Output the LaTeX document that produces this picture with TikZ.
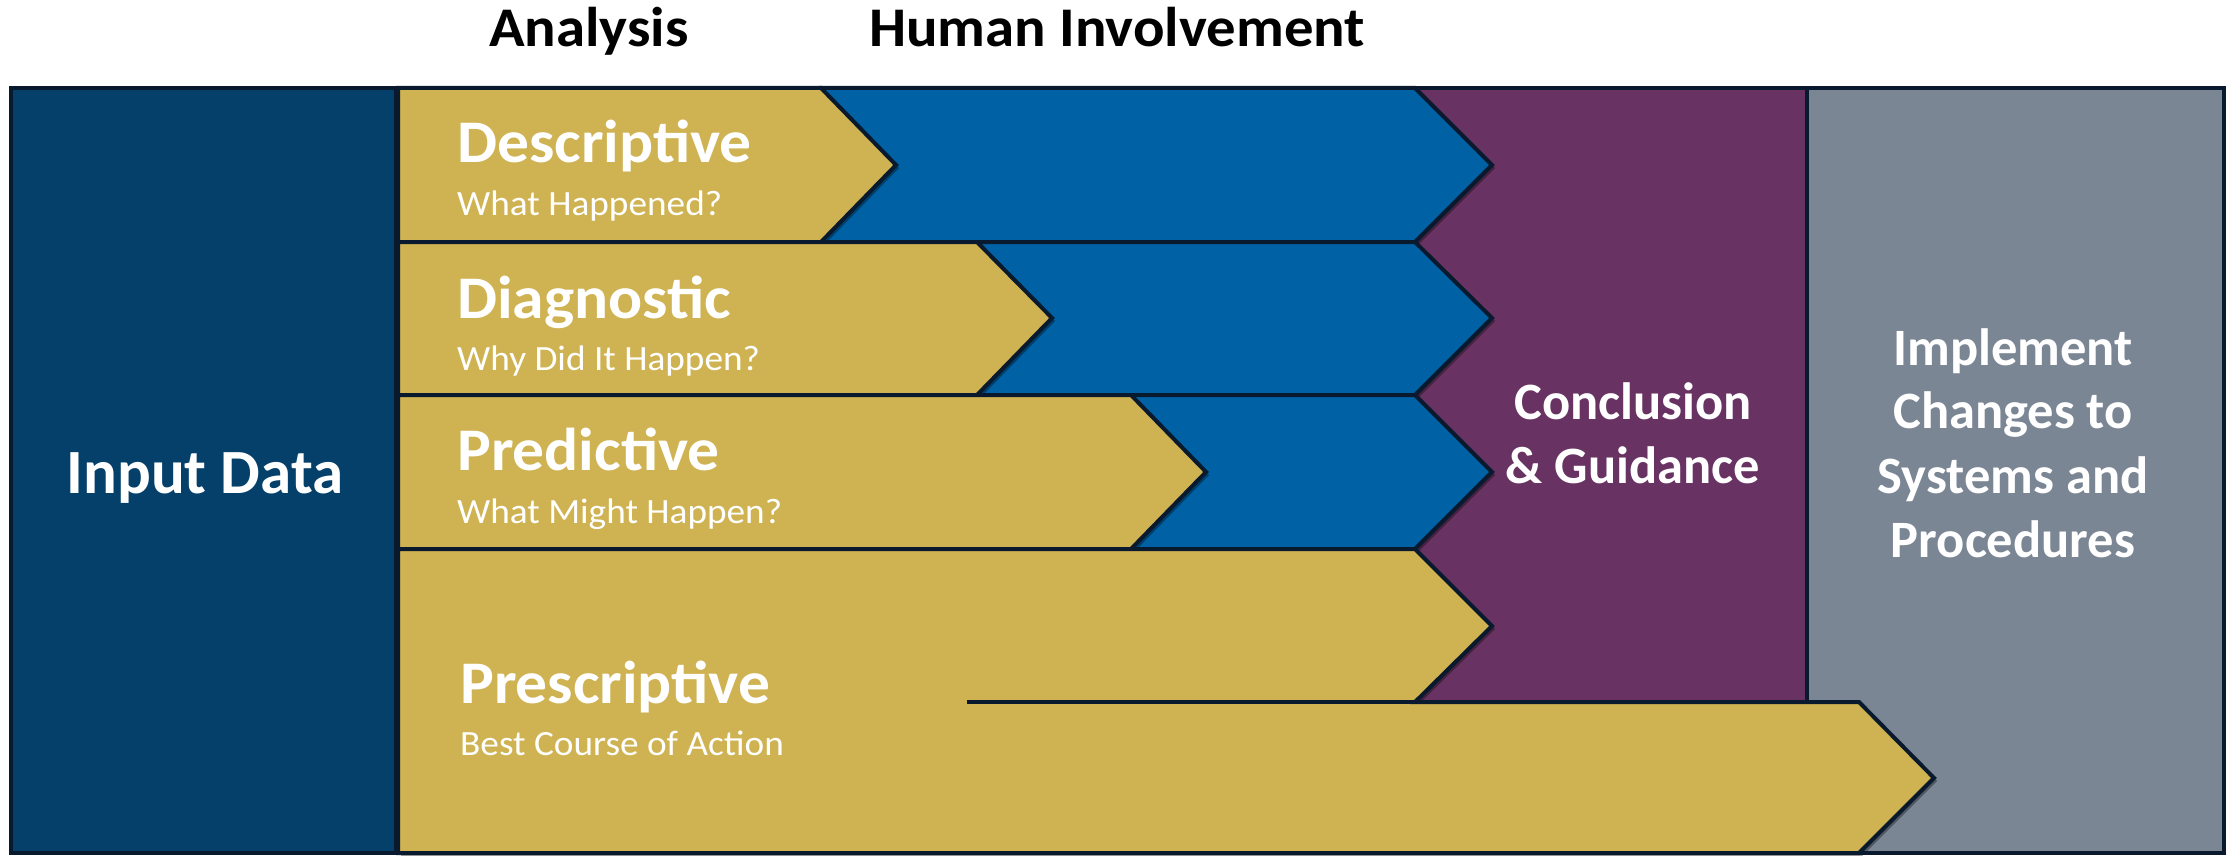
\documentclass[tikz,border=0pt]{standalone}
\usepackage{fontspec}
\setmainfont{Carlito}
\newfontfamily\widefam[FakeStretch=1.05]{Carlito}
\usetikzlibrary{shadows}
\definecolor{navy}{HTML}{05406A}
\definecolor{gold}{HTML}{CFB251}
\definecolor{blu}{HTML}{0061A5}
\definecolor{purp}{HTML}{683362}
\definecolor{grayb}{HTML}{7B8694}
\definecolor{edge}{HTML}{0A1A2E}
\begin{document}
\begin{tikzpicture}[x=1pt,y=-1pt,
  panel/.style={draw=edge, line width=4pt, line join=miter},
  chev/.style={panel, drop shadow={shadow xshift=3pt, shadow yshift=-3pt, opacity=0.35, fill=black}},
  hdr/.style={anchor=base, inner sep=0pt, text=black, font=\widefam\bfseries\fontsize{56}{64}\selectfont},
  ttl/.style={anchor=base west, inner sep=0pt, text=white, font=\widefam\bfseries\fontsize{60.5}{70}\selectfont},
  sub/.style={anchor=base west, inner sep=0pt, text=white, font=\widefam\fontsize{35.5}{42}\selectfont},
  big/.style={anchor=base, inner sep=0pt, text=white, font=\bfseries\fontsize{63}{72}\selectfont},
  side/.style={anchor=base, inner sep=0pt, text=white, font=\bfseries\fontsize{52.5}{62}\selectfont}
]
\useasboundingbox (0,0) rectangle (2236,856);
\fill[white] (0,0) rectangle (2236,856);

% outer panels
\path[panel, fill=grayb] (1807,88) rectangle (2224,853);
\path[panel, fill=purp] (1415,88) rectangle (1807,702);
\path[panel, fill=navy] (11,88) rectangle (396,853);

% row 1
\path[chev, fill=blu] (821,88) -- (1415,88) -- (1492,165) -- (1415,242) -- (821,242) -- cycle;
\path[chev, fill=gold] (398,88) -- (821,88) -- (896,165) -- (821,242) -- (398,242) -- cycle;
% row 2
\path[chev, fill=blu] (977,242) -- (1415,242) -- (1492,318) -- (1415,395) -- (977,395) -- cycle;
\path[chev, fill=gold] (398,242) -- (977,242) -- (1052,318) -- (977,395) -- (398,395) -- cycle;
% row 3
\path[chev, fill=blu] (1131,395) -- (1415,395) -- (1492,472) -- (1415,549) -- (1131,549) -- cycle;
\path[chev, fill=gold] (398,395) -- (1131,395) -- (1206,472) -- (1131,549) -- (398,549) -- cycle;
% prescriptive
\path[chev, fill=gold] (398,549) -- (1415,549) -- (1492,626) -- (1415,702) -- (1859,702) -- (1934,778) -- (1859,853) -- (398,853) -- cycle;
\coordinate (pl) at (967,702);
\coordinate (pr) at (1415,702);
\draw[edge, line width=4pt] (pl) -- (pr);

% outer frame
\draw[edge, line width=4pt] (11,88) rectangle (2224,853);

% texts
\node[hdr] (analysis) at (589,47) {Analysis};
\node[hdr] (human) at (1117,47) {Human Involvement};
\node[big] (input) at (205,493) {Input Data};

\node[ttl] (t1) at (457,163) {Descriptive};
\node[sub] (s1) at (457,215) {What Happened?};
\node[ttl] (t2) at (457,318) {Diagnostic};
\node[sub] (s2) at (457,370) {Why Did It Happen?};
\node[ttl] (t3) at (457,470) {Predictive};
\node[sub] (s3) at (457,523) {What Might Happen?};
\node[ttl] (t4) at (460,703) {Prescriptive};
\node[sub] (s4) at (460,755) {Best Course of Action};

\node[side] (c1) at (1633,419) {Conclusion};
\node[side] (c2) at (1633,483) {\& Guidance};

\node[side] (i1) at (2013,365) {Implement};
\node[side] (i2) at (2013,428) {Changes to};
\node[side] (i3) at (2013,493) {Systems and};
\node[side] (i4) at (2013,557) {Procedures};
\end{tikzpicture}
\end{document}
